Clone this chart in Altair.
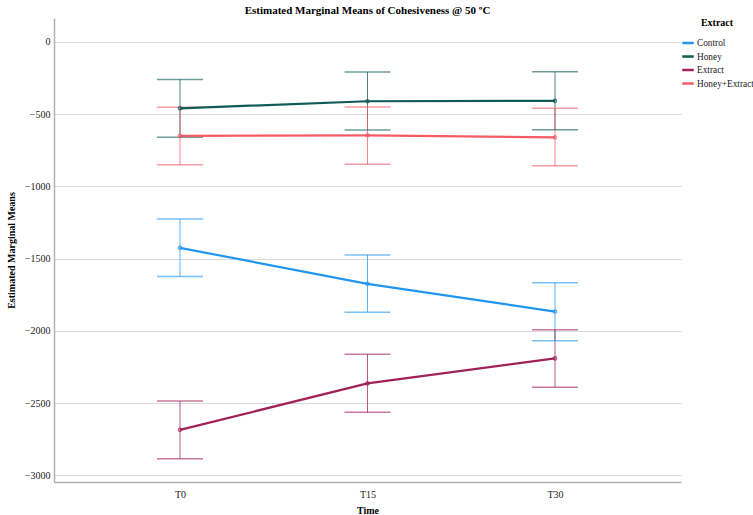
import altair as alt
import pandas as pd

times = ["T0", "T15", "T30"]
groups = ["Control", "Honey", "Extract", "Honey+Extract"]
colors = ["#2196f0", "#0f5c56", "#a1225b", "#f45b64"]

control_mean = [-1425, -1674, -1866]
control_lo = [-1623, -1871, -2068]
control_hi = [-1225, -1474, -1667]

honey_mean = [-460, -411, -408]
honey_lo = [-660, -609, -608]
honey_hi = [-260, -208, -207]

extract_mean = [-2684, -2363, -2190]
extract_lo = [-2884, -2563, -2390]
extract_hi = [-2485, -2162, -1992]

he_mean = [-651, -647, -661]
he_lo = [-851, -847, -858]
he_hi = [-453, -450, -460]

rows = []
for g, m, lo, hi in [
    ("Control", control_mean, control_lo, control_hi),
    ("Honey", honey_mean, honey_lo, honey_hi),
    ("Extract", extract_mean, extract_lo, extract_hi),
    ("Honey+Extract", he_mean, he_lo, he_hi),
]:
    for t, mv, l, h in zip(times, m, lo, hi):
        rows.append({"Time": t, "Extract": g, "mean": mv, "lo": l, "hi": h})
df = pd.DataFrame(rows)

FONT = "Liberation Serif"

xscale = alt.Scale(type="point", padding=0.672)
xaxis = alt.Axis(labelAngle=0, ticks=False, domainColor="#b0b0b0", domainWidth=1.5,
                 labelPadding=7, titlePadding=6, grid=False)
x = alt.X("Time:N", sort=times, title="Time", scale=xscale, axis=xaxis)
yscale = alt.Scale(domain=[-3045, 165], nice=False, zero=False)
yaxis = alt.Axis(values=[0, -500, -1000, -1500, -2000, -2500, -3000], ticks=False,
                 format="d", domainColor="#b0b0b0", domainWidth=1.5, gridColor="#d9d9d9",
                 gridWidth=1.2, labelPadding=4, titlePadding=8)
YT = "Estimated Marginal Means"
cscale = alt.Scale(domain=groups, range=colors)
color = alt.Color("Extract:N", scale=cscale,
                  legend=alt.Legend(title="Extract", symbolType="stroke", symbolStrokeWidth=2.5,
                                    symbolSize=130, orient="right", offset=0,
                                    rowPadding=0.5, titlePadding=8,
                                    titleAnchor="middle", labelOffset=2,
                                    symbolOpacity=1))

base = alt.Chart(df)

line = base.mark_line(strokeWidth=2.2).encode(
    x=x, y=alt.Y("mean:Q", scale=yscale, title=YT, axis=yaxis), color=color,
)
pts = base.mark_point(filled=False, size=10, strokeWidth=1.5).encode(
    x=x, y=alt.Y("mean:Q", scale=yscale, title=YT, axis=yaxis), color=color
)
rule = base.mark_rule(strokeWidth=1, opacity=0.75).encode(
    x=x, y=alt.Y("lo:Q", scale=yscale, title=YT, axis=yaxis), y2="hi:Q", color=color
)
cap_lo = base.mark_tick(size=46, thickness=1.5, opacity=0.6).encode(
    x=x, y=alt.Y("lo:Q", scale=yscale, title=YT, axis=yaxis), color=color
)
cap_hi = base.mark_tick(size=46, thickness=1.5, opacity=0.6).encode(
    x=x, y=alt.Y("hi:Q", scale=yscale, title=YT, axis=yaxis), color=color
)

chart = alt.layer(rule, cap_lo, cap_hi, line, pts).properties(
    width=627, height=464,
    title=alt.TitleParams("Estimated Marginal Means of Cohesiveness @ 50 ºC", fontSize=11,
                          font=FONT, fontWeight="bold", anchor="middle", offset=2),
    autosize=alt.AutoSizeParams(type="none"),
    padding={"left": 54, "top": 18, "right": 72, "bottom": 33},
    background="white",
    view=alt.ViewBackground(stroke="transparent", strokeWidth=0),
).configure_view(
    stroke="transparent", strokeWidth=0
).configure_axis(
    labelFont=FONT, titleFont=FONT, labelFontSize=10, titleFontSize=10,
    labelColor="#222", titleColor="#000", titleFontWeight="bold"
).configure_legend(
    labelFont=FONT, titleFont=FONT, labelFontSize=9.3, titleFontSize=10,
    labelColor="#222", titleColor="#000", titleFontWeight="bold"
)

chart.save("out.html", embed_options={"renderer": "svg", "actions": False})
